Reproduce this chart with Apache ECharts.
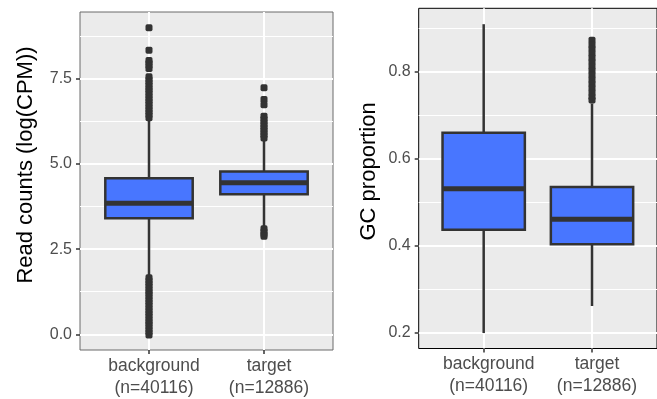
<!DOCTYPE html>
<html>
<head>
<meta charset="utf-8">
<script src="https://cdn.jsdelivr.net/npm/echarts@6/dist/echarts.min.js"></script>
<style>html,body{margin:0;padding:0;background:#fff}#c{width:657px;height:399px}</style>
</head>
<body>
<div id="c"></div>
<script>
// ---- data ----
const categories = ['background\n(n=40116)', 'target\n(n=12886)'];
// [whiskerLow, Q1, median, Q3, whiskerHigh]
const cpmBoxes = [
  [1.72, 3.41, 3.85, 4.58, 6.30],
  [3.16, 4.11, 4.45, 4.78, 5.72]
];
const gcBoxes = [
  [0.200, 0.437, 0.531, 0.660, 0.909],
  [0.262, 0.404, 0.461, 0.535, 0.727]
];
const cpmOutliersBackground = [9.00, 8.34, 8.04, 7.96, 7.88, 7.80,
  7.56, 7.48, 7.40, 7.32, 7.24, 7.16, 7.08, 7.00, 6.92, 6.84, 6.76, 6.68, 6.60, 6.52, 6.44, 6.36,
  1.66, 1.58, 1.50, 1.42, 1.34, 1.26, 1.18, 1.10, 1.02, 0.94, 0.86, 0.78, 0.70, 0.62, 0.54, 0.46,
  0.38, 0.30, 0.22, 0.14, 0.06, -0.02];
const cpmOutliersTarget = [7.24, 6.89, 6.74, 6.40, 6.32, 6.24, 6.16, 6.08, 6.00, 5.92, 5.84, 5.76,
  3.10, 3.02, 2.94, 2.88];
const gcOutliersBackground = [];
const gcOutliersTarget = [0.872, 0.862, 0.852, 0.842, 0.832, 0.822, 0.812, 0.802, 0.792, 0.782,
  0.772, 0.762, 0.752, 0.742, 0.735];
const cpmTicks = [0, 2.5, 5, 7.5];
const cpmMinor = [1.25, 3.75, 6.25, 8.75];
const gcTicks = [0.2, 0.4, 0.6, 0.8];
const gcMinor = [0.3, 0.5, 0.7, 0.9];

// ---- styles ----
const FONT = 'Liberation Sans';
const BOX_FILL = '#4876FF';
const DARK = '#333333';

function boxData(boxes) {
  return boxes.map((b, i) => [i + 1].concat(b));
}
function outlierData(bg, tg) {
  return bg.map(v => [1, v]).concat(tg.map(v => [2, v]));
}
function renderBox(params, api) {
  const x = api.value(0);
  const lo = api.coord([x, api.value(1)]);
  const q1 = api.coord([x, api.value(2)]);
  const med = api.coord([x, api.value(3)]);
  const q3 = api.coord([x, api.value(4)]);
  const hi = api.coord([x, api.value(5)]);
  const w = api.size([0.76, 0])[0];
  const cx = lo[0];
  const lw = 2.5;
  return {
    type: 'group',
    children: [
      { type: 'line', shape: { x1: cx, y1: lo[1], x2: cx, y2: q1[1] }, style: { stroke: DARK, lineWidth: lw } },
      { type: 'line', shape: { x1: cx, y1: q3[1], x2: cx, y2: hi[1] }, style: { stroke: DARK, lineWidth: lw } },
      { type: 'rect', shape: { x: cx - w / 2, y: q3[1], width: w, height: q1[1] - q3[1] },
        style: { fill: BOX_FILL, stroke: DARK, lineWidth: lw } },
      { type: 'line', shape: { x1: cx - w / 2, y1: med[1], x2: cx + w / 2, y2: med[1] }, style: { stroke: DARK, lineWidth: 5 } }
    ]
  };
}
function xAxisCfg(gridIndex) {
  return {
    type: 'value', gridIndex, min: 0.4, max: 2.6, position: 'bottom',
    axisLine: { show: false, onZero: false },
    axisTick: { show: true, length: 4, customValues: [1, 2], lineStyle: { color: DARK, width: 1.5 } },
    axisLabel: {
      customValues: [1, 2], margin: 5, fontSize: 17.5, lineHeight: 22, color: '#4D4D4D', fontFamily: FONT,
      padding: [0, 0, 0, 10], showMinLabel: true, showMaxLabel: true, hideOverlap: false,
      formatter: v => categories[Math.round(v) - 1]
    },
    splitLine: { show: true, lineStyle: { color: '#ffffff', width: 2 } }
  };
}
function yAxisMajor(gridIndex, min, max, ticks, name, gap, shift) {
  return {
    type: 'value', gridIndex, min, max, position: 'left',
    name, nameLocation: 'middle', nameRotate: 90, nameGap: gap,
    nameTextStyle: { fontSize: 22, color: '#000', fontFamily: FONT, padding: [0, 0, 0, shift] },
    axisLine: { show: false, onZero: false },
    axisTick: { show: true, length: 4, customValues: ticks, lineStyle: { color: DARK, width: 1.5 } },
    axisLabel: { customValues: ticks, margin: 8, fontSize: 16, color: '#4D4D4D', fontFamily: FONT,
      showMinLabel: true, showMaxLabel: true, formatter: v => v.toFixed(1) },
    splitLine: { show: true, lineStyle: { color: '#ffffff', width: 2 } }
  };
}
function yAxisMinor(gridIndex, min, max, ticks) {
  return {
    type: 'value', gridIndex, min, max, position: 'left',
    axisLine: { show: false, onZero: false },
    axisTick: { show: false, customValues: ticks },
    axisLabel: { show: false, customValues: ticks },
    splitLine: { show: true, lineStyle: { color: '#ffffff', width: 1 } }
  };
}

const chart = echarts.init(document.getElementById('c'), null, { renderer: 'canvas' });
chart.setOption({
  animation: false,
  backgroundColor: '#ffffff',
  textStyle: { fontFamily: FONT },
  grid: [
    { left: 80, top: 12, right: 324, bottom: 47.5, show: true, backgroundColor: '#EBEBEB', borderColor: '#6b6b6b', borderWidth: 1 },
    { left: 418.7, top: 8.3, right: -7.5, bottom: 50.5, show: true, backgroundColor: '#EBEBEB', borderColor: '#000000', borderWidth: 1 }
  ],
  xAxis: [xAxisCfg(0), xAxisCfg(1)],
  yAxis: [
    yAxisMinor(0, -0.46, 9.46, cpmMinor),
    yAxisMajor(0, -0.46, 9.46, cpmTicks, 'Read counts (log(CPM))', 43, 32),
    yAxisMinor(1, 0.1645, 0.9455, gcMinor),
    yAxisMajor(1, 0.1645, 0.9455, gcTicks, 'GC proportion', 39, 14)
  ],
  series: [
    { type: 'custom', xAxisIndex: 0, yAxisIndex: 1, renderItem: renderBox, data: boxData(cpmBoxes), z: 3 },
    { type: 'scatter', xAxisIndex: 0, yAxisIndex: 1, symbol: 'roundRect', symbolSize: 7,
      itemStyle: { color: DARK, opacity: 1 }, data: outlierData(cpmOutliersBackground, cpmOutliersTarget), z: 4 },
    { type: 'custom', xAxisIndex: 1, yAxisIndex: 3, renderItem: renderBox, data: boxData(gcBoxes), z: 3 },
    { type: 'scatter', xAxisIndex: 1, yAxisIndex: 3, symbol: 'roundRect', symbolSize: 7,
      itemStyle: { color: DARK, opacity: 1 }, data: outlierData(gcOutliersBackground, gcOutliersTarget), z: 4 }
  ]
});
</script>
</body>
</html>
